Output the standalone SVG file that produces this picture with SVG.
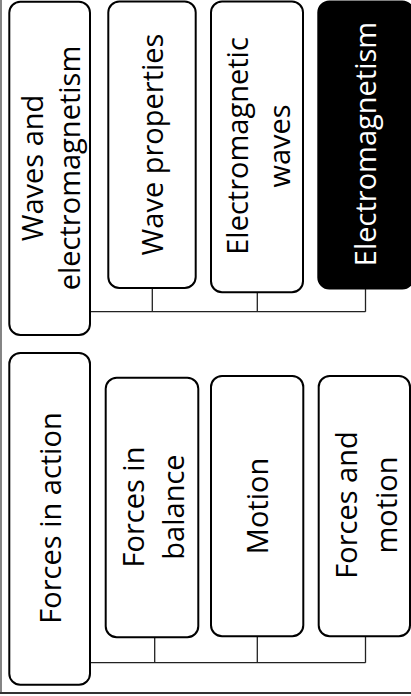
<svg xmlns="http://www.w3.org/2000/svg" width="411" height="696" viewBox="0 0 411 696">
<style>
.box{fill:#fff;stroke:#000;stroke-width:2}
.dark{fill:#000;stroke:#000;stroke-width:2}
.lbl{font-family:"Open Sans","Noto Sans",sans-serif;font-size:29px;fill:#000;text-anchor:middle}
.inv{fill:#fff}
.conn{fill:none;stroke:#222;stroke-width:1.3}
.frame{fill:none;stroke:#333}
</style>
<rect width="411" height="696" fill="#fff"/>
<path class="frame" d="M1,0 V693" stroke-width="1.2"/>
<path class="frame" d="M0,693 H411" stroke-width="2"/>
<g id="connectors">
<path class="conn" d="M90,311.7 H365.5 M152.3,288 V311.7 M257.3,292 V311.7 M365.5,289 V311.7"/>
<path class="conn" d="M90,662.7 H365.5 M154.7,637 V662.7 M257.3,636 V662.7 M365.5,636 V662.7"/>
</g>
<g id="waves-and-electromagnetism">
<rect class="box" x="9.3" y="1.7" width="80.7" height="333.3" rx="11"/>
<text class="lbl" transform="translate(43,168) rotate(-90)">Waves and</text>
<text class="lbl" transform="translate(80,168) rotate(-90)">electromagnetism</text>
</g>
<g id="wave-properties">
<rect class="box" x="108.3" y="1.5" width="87.4" height="286.5" rx="11"/>
<text class="lbl" transform="translate(163,144.5) rotate(-90)">Wave properties</text>
</g>
<g id="electromagnetic-waves">
<rect class="box" x="211" y="1.5" width="92" height="290.8" rx="11"/>
<text class="lbl" transform="translate(248,146) rotate(-90)">Electromagnetic</text>
<text class="lbl" transform="translate(290,146) rotate(-90)">waves</text>
</g>
<g id="electromagnetism">
<rect class="dark" x="318.3" y="1.5" width="95" height="287" rx="11"/>
<text class="lbl inv" transform="translate(376,144) rotate(-90)">Electromagnetism</text>
</g>
<g id="forces-in-action">
<rect class="box" x="9.3" y="353" width="80.7" height="331.7" rx="11"/>
<text class="lbl" transform="translate(61,518) rotate(-90)">Forces in action</text>
</g>
<g id="forces-in-balance">
<rect class="box" x="105.7" y="377.7" width="92.6" height="259.6" rx="11"/>
<text class="lbl" transform="translate(144,507) rotate(-90)">Forces in</text>
<text class="lbl" transform="translate(184,507) rotate(-90)">balance</text>
</g>
<g id="motion">
<rect class="box" x="211" y="376" width="92.3" height="260.3" rx="11"/>
<text class="lbl" transform="translate(268,506) rotate(-90)">Motion</text>
</g>
<g id="forces-and-motion">
<rect class="box" x="318.7" y="376" width="91.3" height="260.3" rx="11"/>
<text class="lbl" transform="translate(357,505) rotate(-90)">Forces and</text>
<text class="lbl" transform="translate(397,505) rotate(-90)">motion</text>
</g>
</svg>
